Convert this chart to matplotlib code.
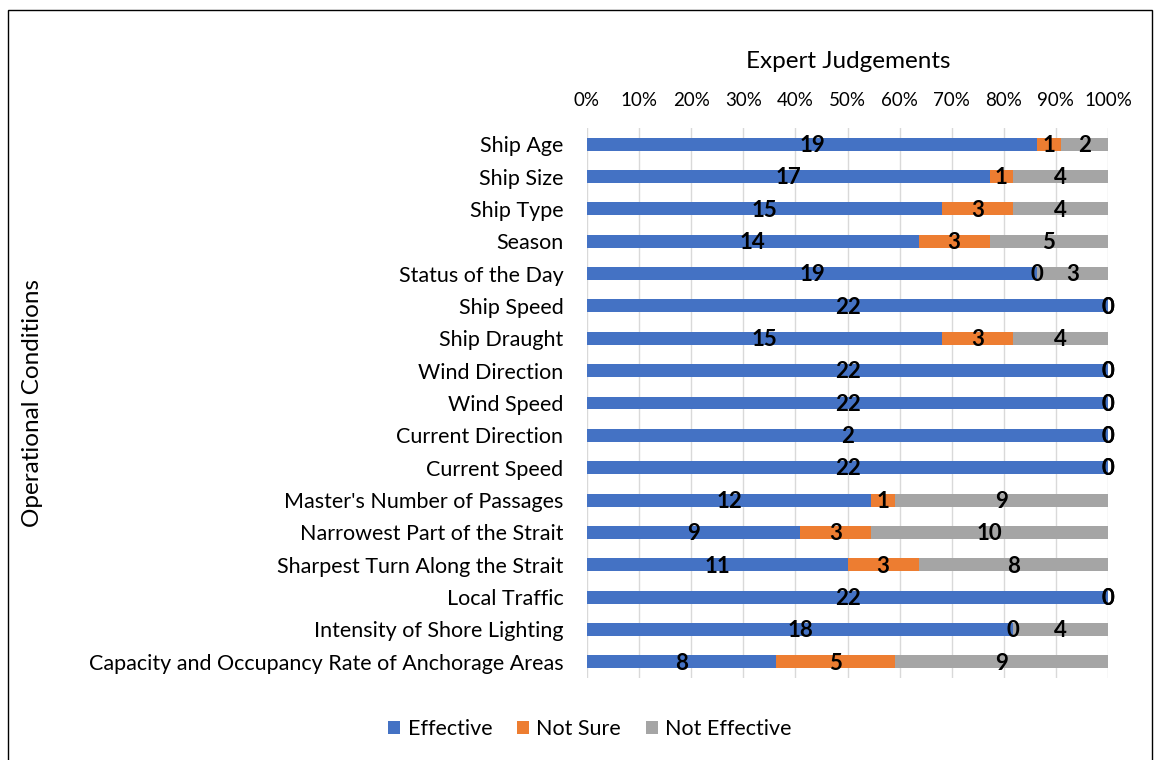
import numpy as np
import matplotlib
matplotlib.use("Agg")
import matplotlib.pyplot as plt
from matplotlib.patches import Rectangle

# Datos del gráfico: juicios de expertos por condición operacional
condiciones = [
    "Ship Age", "Ship Size", "Ship Type", "Season", "Status of the Day",
    "Ship Speed", "Ship Draught", "Wind Direction", "Wind Speed",
    "Current Direction", "Current Speed", "Master's Number of Passages",
    "Narrowest Part of the Strait", "Sharpest Turn Along the Strait",
    "Local Traffic", "Intensity of Shore Lighting",
    "Capacity and Occupancy Rate of Anchorage Areas",
]
efectivo = [19, 17, 15, 14, 19, 22, 15, 22, 22, 22, 22, 12, 9, 11, 22, 18, 8]
no_seguro = [1, 1, 3, 3, 0, 0, 3, 0, 0, 0, 0, 1, 3, 3, 0, 0, 5]
no_efectivo = [2, 4, 4, 5, 3, 0, 4, 0, 0, 0, 0, 9, 10, 8, 0, 4, 9]
# la etiqueta de "Current Direction" aparece como "2" en el original
etiquetas_efectivo = [str(v) for v in efectivo]
etiquetas_efectivo[9] = "2"

series = ["Effective", "Not Sure", "Not Effective"]
colores = ["#4472C4", "#ED7D31", "#A5A5A5"]
ticks_pct = [f"{p}%" for p in range(0, 101, 10)]

plt.rcParams['font.family'] = ['Lato', 'DejaVu Sans']

fig = plt.figure(figsize=(11.55, 7.6), dpi=100)
W, H = 1155, 760
ax = fig.add_axes([587 / W, 1 - 678 / H, (1108 - 587) / W, (678 - 128) / H])

datos = np.array([efectivo, no_seguro, no_efectivo], dtype=float)
totales = datos.sum(axis=0)
pct = datos / totales
etiquetas = [etiquetas_efectivo,
             [str(v) for v in no_seguro],
             [str(v) for v in no_efectivo]]

y = np.arange(len(condiciones))
izq = np.zeros(len(condiciones))
for k in range(3):
    ax.barh(y, pct[k], left=izq, height=0.4, color=colores[k],
            label=series[k], zorder=3)
    for i in range(len(condiciones)):
        ax.text(izq[i] + pct[k][i] / 2, y[i] + 0.04, etiquetas[k][i],
                ha='center', va='center', fontsize=16, fontweight='bold',
                color='black', zorder=4)
    izq += pct[k]

ax.set_xlim(0, 1)
ax.set_ylim(len(condiciones) - 0.5, -0.5)
ax.set_xticks(np.linspace(0, 1, 11))
ax.set_xticklabels(ticks_pct, fontsize=13.5)
ax.xaxis.tick_top()
ax.tick_params(axis='x', length=0, pad=14)
ax.set_yticks(y)
ax.set_yticklabels(condiciones, fontsize=15.5)
ax.tick_params(axis='y', length=0, pad=17)
ax.grid(axis='x', color='#D9D9D9', linewidth=1, zorder=0)
for s in ax.spines.values():
    s.set_visible(False)

fig.text(848 / W, 1 - 61 / H, "Expert Judgements", ha='center', va='center',
         fontsize=17.5)
fig.text(33 / W, 1 - 403 / H, "Operational Conditions", ha='center',
         va='center', rotation=90, fontsize=17.5)

fig.legend(loc='center', bbox_to_anchor=(590 / W, 1 - 729 / H), ncol=3,
           frameon=False, fontsize=15.5, handlelength=0.55, handleheight=0.55,
           columnspacing=1.15, handletextpad=0.35)

fig.patches.append(Rectangle((8 / W, -0.05), 1144 / W, 1.05 - 10 / H,
                             transform=fig.transFigure, fill=False,
                             edgecolor='black', linewidth=1))

fig.savefig("out.png", dpi=100)
